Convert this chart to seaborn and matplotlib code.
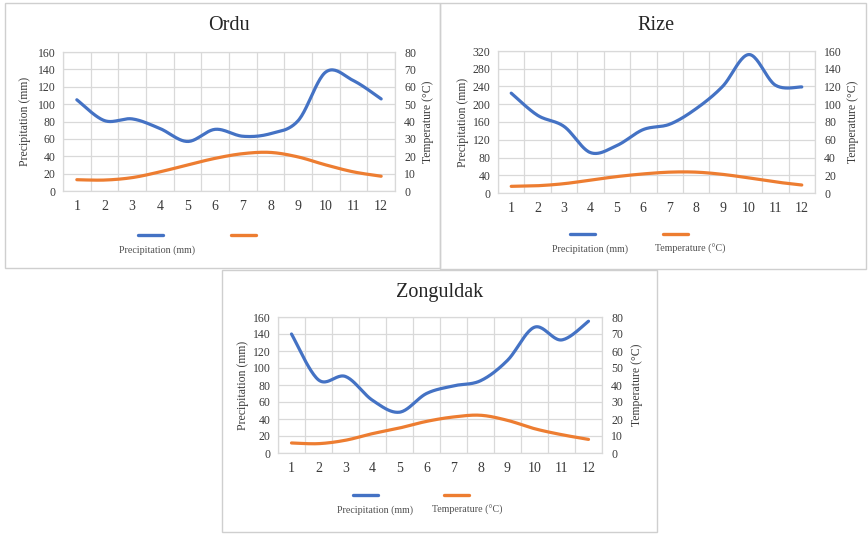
import numpy as np
import pandas as pd
import matplotlib
matplotlib.use("Agg")
import matplotlib.pyplot as plt
import seaborn as sns
from matplotlib.patches import Rectangle
from matplotlib.lines import Line2D

# Monthly climate data
months = list(range(1, 13))
month_labels = [str(m) for m in months]

ordu_precip = [105, 81, 83, 72, 57, 71, 63, 66, 81, 137, 127, 106]
ordu_temp = [6.5, 6.3, 7.7, 11.0, 15.0, 18.8, 21.5, 22.2, 19.6, 15.0, 11.0, 8.5]

rize_precip = [225, 175, 150, 91, 107, 143, 155, 190, 240, 312, 243, 239]
rize_temp = [7.5, 8.2, 10.5, 14.5, 18.5, 21.5, 23.5, 23.5, 21.0, 17.0, 12.5, 9.0]

zong_precip = [140, 86, 90, 62, 48, 70, 79, 85, 109, 148, 133, 155]
zong_temp = [5.9, 5.5, 7.5, 11.4, 14.7, 18.6, 21.2, 22.2, 19.2, 14.3, 10.8, 8.0]

precip_name = "Precipitation (mm)"
temp_name = "Temperature (°C)"

BLUE = "#4472C4"
ORANGE = "#ED7D31"
GRID = "#D9D9D9"
TXT = "#3A3A3A"

sns.set_theme(style="white")
plt.rcParams["font.family"] = ["Liberation Serif", "DejaVu Serif"]

W, H = 868, 535
fig = plt.figure(figsize=(W / 100, H / 100), dpi=100)
fig.patch.set_facecolor("white")


def box(x0, y0, x1, y1):
    return [x0 / W, 1 - y1 / H, (x1 - x0) / W, (y1 - y0) / H]


def smooth(x, y, n=24):
    """Smoothed line through the points (cubic Bezier, Catmull-Rom tangents)."""
    P = np.column_stack([np.asarray(x, float), np.asarray(y, float)])
    ext = np.vstack([P[0], P, P[-1]])
    t = np.linspace(0, 1, n, endpoint=False)[:, None]
    segs = []
    for i in range(len(P) - 1):
        p0, p1, p2, p3 = ext[i], ext[i + 1], ext[i + 2], ext[i + 3]
        c1 = p1 + (p2 - p0) / 6
        c2 = p2 - (p3 - p1) / 6
        segs.append((1 - t) ** 3 * p1 + 3 * (1 - t) ** 2 * t * c1
                    + 3 * (1 - t) * t ** 2 * c2 + t ** 3 * p2)
    segs.append(P[-1:])
    pts = np.vstack(segs)
    return pd.DataFrame({"x": pts[:, 0], "y": pts[:, 1]})


def panel(frame, plot, title, title_y, precip, temp, pmax, pstep, tmax, tstep,
          lab_left, lab_right, legend):
    fx0, fy0, fx1, fy1 = frame
    fig.patches.append(Rectangle((fx0 / W, 1 - fy1 / H), (fx1 - fx0) / W,
                                 (fy1 - fy0) / H, transform=fig.transFigure,
                                 fill=False, edgecolor="#CFCFCF", lw=1.0))
    px0, py0, px1, py1 = plot
    ax = fig.add_axes(box(*plot))
    ax.set_facecolor("white")
    ax.set_xlim(0.5, 12.5)
    ax.set_ylim(0, pmax)
    ax.set_yticks(np.arange(0, pmax + 1, pstep))
    ax.set_xticks(months)
    ax.set_xticklabels(month_labels)
    ax.set_xticks(np.arange(0.5, 13, 1), minor=True)
    ax.grid(which="minor", axis="x", color=GRID, lw=0.9)
    ax.grid(which="major", axis="y", color=GRID, lw=0.9)
    ax.grid(which="major", axis="x", visible=False)
    for s in ax.spines.values():
        s.set_color(GRID)
        s.set_linewidth(0.9)
    ax.tick_params(axis="y", which="both", length=0, pad=5.5, labelsize=8.5, colors=TXT)
    ax.tick_params(axis="x", which="both", length=0, pad=6.5, labelsize=10, colors=TXT)

    ax2 = ax.twinx()
    ax2.set_ylim(0, tmax)
    ax2.set_yticks(np.arange(0, tmax + 1, tstep))
    ax2.grid(False)
    for s in ax2.spines.values():
        s.set_visible(False)
    ax2.tick_params(axis="y", length=0, pad=6.5, labelsize=8.5, colors=TXT)

    sns.lineplot(data=smooth(months, precip), x="x", y="y", ax=ax, color=BLUE,
                 lw=2.3, sort=False, estimator=None)
    sns.lineplot(data=smooth(months, temp), x="x", y="y", ax=ax2, color=ORANGE,
                 lw=2.3, sort=False, estimator=None)
    ax.set_xlabel("")
    ax.set_ylabel(precip_name, fontsize=8.5, color=TXT)
    ax2.set_ylabel(temp_name, fontsize=8.5, color=TXT, rotation=90)
    wpx = px1 - px0
    ax.yaxis.set_label_coords((lab_left - px0) / wpx, 0.5)
    ax2.yaxis.set_label_coords((lab_right - px0) / wpx, 0.5)
    ax.yaxis.label.set_va("center")
    ax2.yaxis.label.set_va("center")

    fig.text((px0 + px1) / 2 / W, 1 - title_y / H, title, ha="center", va="center",
             fontsize=14.5, color="#262626")

    # legend keys and captions
    (bx, ox, ly, ty, ptx, ttx) = legend
    for x0, c in ((bx, BLUE), (ox, ORANGE)):
        fig.lines.append(Line2D([x0 / W, (x0 + 25) / W], [1 - ly / H, 1 - ly / H],
                                transform=fig.transFigure, color=c, lw=2.4))
    fig.text(ptx / W, 1 - ty / H, precip_name, ha="center", va="center",
             fontsize=7.2, color="#505050")
    if ttx is not None:
        fig.text(ttx / W, 1 - ty / H, temp_name, ha="center", va="center",
                 fontsize=7.2, color="#505050")
    return ax


panel((5, 3, 440, 268), (63, 52, 395, 191), "Ordu", 25,
      ordu_precip, ordu_temp, 160, 20, 80, 10, 25, 428,
      (138, 231, 235, 250, 157, None))

panel((440, 3, 866, 269), (498, 51, 815, 193), "Rize", 25,
      rize_precip, rize_temp, 320, 40, 160, 20, 463, 853,
      (570, 663, 234, 249, 590, 690))

panel((222, 270, 657, 532), (278, 317, 602, 453), "Zonguldak", 292,
      zong_precip, zong_temp, 160, 20, 80, 10, 243, 637,
      (353, 444, 495, 510, 375, 467))

fig.savefig("out.png", dpi=100, facecolor="white")
